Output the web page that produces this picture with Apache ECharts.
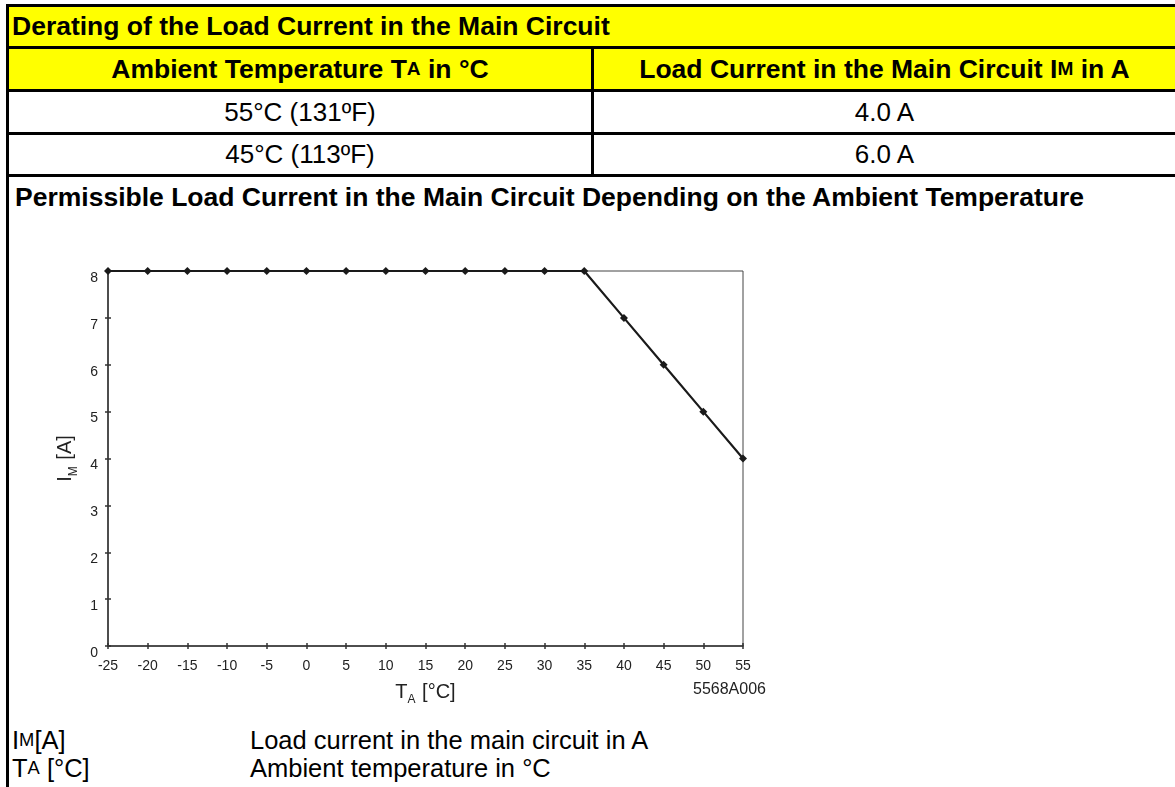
<!DOCTYPE html>
<html>
<head>
<meta charset="utf-8">
<script src="https://cdn.jsdelivr.net/npm/echarts@6/dist/echarts.min.js"></script>
<style>
  html, body { margin: 0; padding: 0; background: #fff; }
  body { width: 1175px; height: 787px; position: relative; overflow: hidden;
         font-family: "Liberation Sans", Arial, sans-serif; color: #000; }
  .ln { position: absolute; background: #000; }
  .cell { position: absolute; display: flex; align-items: center; white-space: nowrap; }
  .yel { background: #ffff00; }
  .b { font-weight: bold; }
  sub { font-size: 0.72em; vertical-align: -0.28em; line-height: 0; }
  #chart { position: absolute; left: 0; top: 0; width: 1175px; height: 787px; }
</style>
</head>
<body>
  <!-- table part -->
  <div class="cell yel b" style="left:9px;top:7px;width:1166px;height:39px;font-size:26.5px;"><span style="padding-left:3px">Derating of the Load Current in the Main Circuit</span></div>
  <div class="cell yel b" style="left:9px;top:49px;width:582px;height:40px;font-size:26.5px;justify-content:center;">Ambient Temperature T<sub>A</sub>&nbsp;in °C</div>
  <div class="cell yel b" style="left:594px;top:49px;width:581px;height:40px;font-size:26.5px;justify-content:center;">Load Current in the Main Circuit I<sub>M</sub>&nbsp;in A</div>
  <div class="cell" style="left:9px;top:92px;width:582px;height:40px;font-size:26px;justify-content:center;">55°C (131ºF)</div>
  <div class="cell" style="left:594px;top:92px;width:581px;height:40px;font-size:26px;justify-content:center;">4.0 A</div>
  <div class="cell" style="left:9px;top:135px;width:582px;height:39px;font-size:26px;justify-content:center;">45°C (113ºF)</div>
  <div class="cell" style="left:594px;top:135px;width:581px;height:39px;font-size:26px;justify-content:center;">6.0 A</div>
  <div class="cell b" style="left:15px;top:182px;height:30px;font-size:26.5px;">Permissible Load Current in the Main Circuit Depending on the Ambient Temperature</div>

  <div class="ln" style="left:6px;top:4px;width:3px;height:783px;"></div>
  <div class="ln" style="left:6px;top:4px;width:1169px;height:3px;"></div>
  <div class="ln" style="left:6px;top:46px;width:1169px;height:3px;"></div>
  <div class="ln" style="left:6px;top:89px;width:1169px;height:3px;"></div>
  <div class="ln" style="left:6px;top:132px;width:1169px;height:3px;"></div>
  <div class="ln" style="left:6px;top:174px;width:1169px;height:3px;"></div>
  <div class="ln" style="left:591px;top:46px;width:3px;height:130px;"></div>

  <!-- legend -->
  <div class="cell" style="left:12px;top:725px;height:30px;font-size:25.5px;">I<sub>M</sub>[A]</div>
  <div class="cell" style="left:250px;top:725px;height:30px;font-size:25.5px;">Load current in the main circuit in A</div>
  <div class="cell" style="left:12px;top:753px;height:30px;font-size:25.5px;">T<sub>A</sub>&nbsp;[°C]</div>
  <div class="cell" style="left:250px;top:753px;height:30px;font-size:25.5px;">Ambient temperature in °C</div>

  <div id="chart"></div>

<script>
// chart data
var temps = [-25, -20, -15, -10, -5, 0, 5, 10, 15, 20, 25, 30, 35, 40, 45, 50, 55];
var current = [8, 8, 8, 8, 8, 8, 8, 8, 8, 8, 8, 8, 8, 7, 6, 5, 4];
var figureCode = "5568A006";

var chart = echarts.init(document.getElementById("chart"));

var points = temps.map(function (t, i) {
  return [t, current[i]];
});

var axisColor = "#333";
var labelStyle = { color: "#222", fontSize: 14, fontFamily: "Liberation Sans" };
var nameRich = {
  n: { fontSize: 20, color: "#222", fontFamily: "Liberation Sans", lineHeight: 22, verticalAlign: "bottom" },
  s: { fontSize: 12, color: "#222", fontFamily: "Liberation Sans", lineHeight: 22, verticalAlign: "bottom", padding: [0, 1, -4, 0] },
};

// second axes only draw the inner half of the crossing ticks
var innerX = {
  type: "value", min: -25, max: 55, interval: 5, position: "bottom",
  axisLine: { show: false, onZero: false },
  axisTick: { inside: true, length: 3, lineStyle: { color: axisColor, width: 1.5 } },
  axisLabel: { show: false },
  splitLine: { show: false },
};
var innerY = {
  type: "value", min: 0, max: 8, interval: 1, position: "left",
  axisLine: { show: false, onZero: false },
  axisTick: { show: true, inside: true, length: 3, lineStyle: { color: axisColor, width: 1.5 } },
  axisLabel: { show: false },
  splitLine: { show: false },
};

var option = {
  animation: false,
  grid: {
    left: 108,
    right: 432,
    top: 271,
    bottom: 141,
    containLabel: false,
    outerBoundsMode: "none",
    show: true,
    borderColor: "#444",
    borderWidth: 1,
    backgroundColor: "transparent",
  },
  xAxis: [
    {
      type: "value",
      min: -25,
      max: 55,
      interval: 5,
      position: "bottom",
      name: "{n|T}{s|A}{n| [°C]}",
      nameLocation: "middle",
      nameGap: 34,
      nameTextStyle: { rich: nameRich },
      axisLine: { onZero: false, lineStyle: { color: axisColor, width: 1.5 } },
      axisTick: { length: 3, lineStyle: { color: axisColor, width: 1.5 } },
      axisLabel: Object.assign({ margin: 13 }, labelStyle),
      splitLine: { show: false },
    },
    innerX,
  ],
  yAxis: [
    {
      type: "value",
      min: 0,
      max: 8,
      interval: 1,
      position: "left",
      name: "{n|I}{s|M}{n| [A]}",
      nameLocation: "middle",
      nameRotate: 90,
      nameGap: 29,
      nameTextStyle: { rich: nameRich },
      axisLine: { show: true, onZero: false, lineStyle: { color: axisColor, width: 1.5 } },
      axisTick: { show: true, length: 3, lineStyle: { color: axisColor, width: 1.5 } },
      axisLabel: Object.assign({ margin: 10, verticalAlign: "top" }, labelStyle),
      splitLine: { show: false },
    },
    innerY,
  ],
  series: [
    {
      type: "line",
      xAxisIndex: 0,
      yAxisIndex: 0,
      data: points,
      symbol: "diamond",
      symbolSize: 8,
      lineStyle: { color: "#1a1a1a", width: 2.2 },
      itemStyle: { color: "#1a1a1a" },
    },
  ],
  graphic: [
    {
      type: "text",
      left: 693,
      top: 682,
      style: { text: figureCode, fontSize: 16, fill: "#222", fontFamily: "Liberation Sans" },
    },
  ],
};

chart.setOption(option);
window.addEventListener("resize", function () {
  chart.resize();
});
</script>
</body>
</html>
